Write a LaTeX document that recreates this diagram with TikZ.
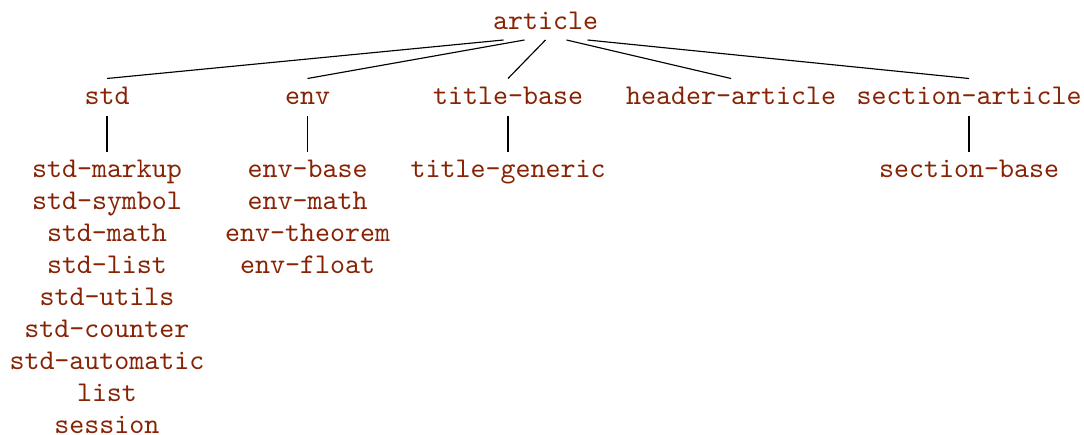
\documentclass[tikz,border=0pt]{standalone}
\definecolor{modname}{RGB}{135,35,5}
\tikzset{
  mod/.style={text=modname, font=\ttfamily\fontsize{10}{11.2}\selectfont, inner sep=2pt},
  modone/.style={mod, text height=7pt, text depth=1.6pt},
  modlist/.style={mod, inner sep=2.5pt, align=center, anchor=north},
}
\begin{document}
\begin{tikzpicture}[x=0.35pt, y=-0.35pt]
	\useasboundingbox (0,0) rectangle (1084,435);
	% root
	\node[modone, anchor=south] (article) at (545.5,40) {article};
	% first level
	\node[modone, anchor=north] (std) at (107,78.5) {std};
	\node[modone, anchor=north] (env) at (307.5,78.5) {env};
	\node[modone, anchor=north] (titlebase) at (508,78.5) {title-base};
	\node[modone, anchor=north] (header) at (731,78.5) {header-article};
	\node[modone, anchor=north] (section) at (969,78.5) {section-article};
	% second level
	\node[modlist] (stdlist) at (107,152.5) {std-markup\\std-symbol\\std-math\\std-list\\std-utils\\std-counter\\std-automatic\\list\\session};
	\node[modlist] (envlist) at (307.5,152.5) {env-base\\env-math\\env-theorem\\env-float};
	\node[modlist] (titlegen) at (508,152.5) {title-generic};
	\node[modlist] (sectionbase) at (969,152.5) {section-base};
	% edges
	\draw ([xshift=-14.7pt]article.south) -- (std.north);
	\draw ([xshift=-7.35pt]article.south) -- (env.north);
	\draw (article.south) -- (titlebase.north);
	\draw ([xshift=7.35pt]article.south) -- (header.north);
	\draw ([xshift=14.7pt]article.south) -- (section.north);
	\draw (std.south) -- (stdlist.north);
	\draw (env.south) -- (envlist.north);
	\draw (titlebase.south) -- (titlegen.north);
	\draw (section.south) -- (sectionbase.north);
\end{tikzpicture}
\end{document}
